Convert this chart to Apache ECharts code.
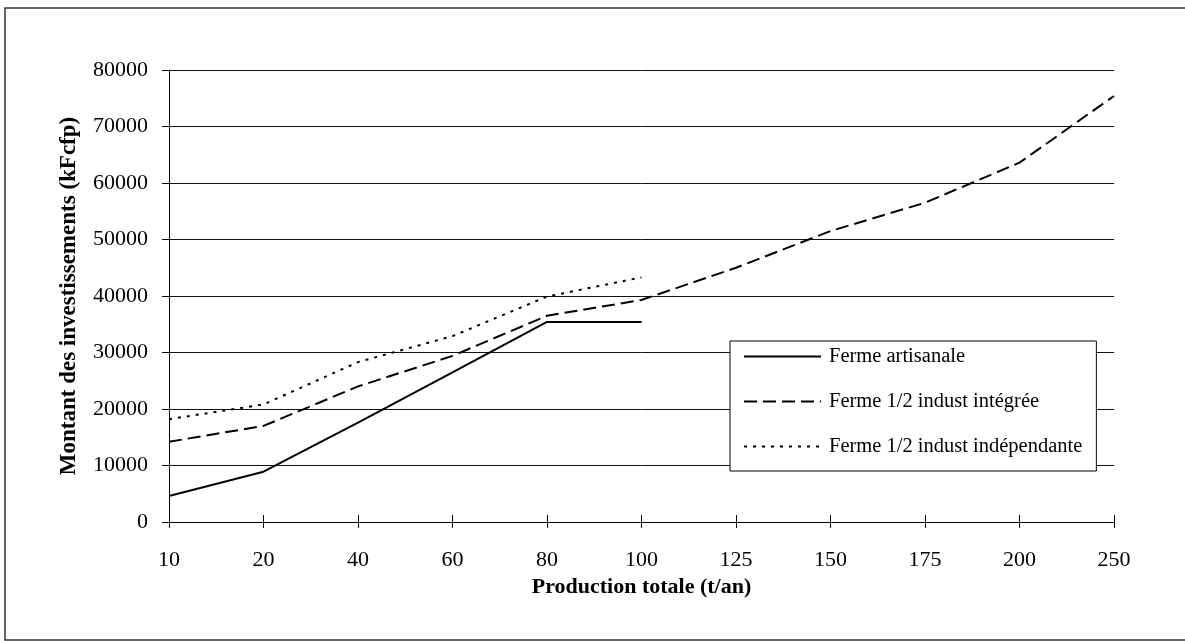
<!DOCTYPE html>
<html>
<head>
<meta charset="utf-8">
<script src="https://cdn.jsdelivr.net/npm/echarts@6/dist/echarts.min.js"></script>
<style>
  html, body { margin: 0; padding: 0; background: #ffffff; }
  #chart { width: 1185px; height: 641px; }
</style>
</head>
<body>
<div id="chart"></div>
<script>
// Production totale (t/an) — category positions
var categories = ['10', '20', '40', '60', '80', '100', '125', '150', '175', '200', '250'];

// Montant des investissements (kFcfp)
var fermeArtisanale = [4600, 8900, 17600, 26500, 35400, 35400, null, null, null, null, null];
var fermeIntegree = [14200, 17000, 24000, 29400, 36500, 39300, 45000, 51500, 56500, 63600, 75400];
var fermeIndependante = [18200, 20800, 28300, 32900, 39900, 43300, null, null, null, null, null];

var seriesNames = ['Ferme artisanale', 'Ferme 1/2 indust intégrée', 'Ferme 1/2 indust indépendante'];

var FONT = '"Liberation Serif", "Times New Roman", serif';

var chart = echarts.init(document.getElementById('chart'), null, { renderer: 'canvas' });

function lineSeries(name, data, type) {
  return {
    name: name,
    type: 'line',
    data: data,
    symbol: 'none',
    showSymbol: false,
    connectNulls: false,
    animation: false,
    lineStyle: { color: '#000', width: 2, type: type },
    itemStyle: { color: '#000' }
  };
}

chart.setOption({
  backgroundColor: '#ffffff',
  animation: false,
  graphic: [{
    type: 'rect',
    shape: { x: 5, y: 8, width: 1200, height: 632 },
    style: { fill: 'none', stroke: '#333', lineWidth: 1.5 },
    silent: true,
    z: -1
  }],
  grid: { left: 169, right: 71, top: 70, bottom: 119 },
  legend: {
    orient: 'vertical',
    left: 730,
    top: 341,
    backgroundColor: '#ffffff',
    borderColor: '#000',
    borderWidth: 1,
    padding: [5, 14, 14, 13],
    itemWidth: 77,
    itemHeight: 20,
    itemGap: 24,
    data: seriesNames,
    textStyle: { fontFamily: FONT, fontSize: 20.5, color: '#000', padding: [0, 0, 0, 3] },
    itemStyle: { opacity: 0 }
  },
  xAxis: [{
    type: 'category',
    data: categories,
    boundaryGap: false,
    name: 'Production totale (t/an)',
    nameLocation: 'middle',
    nameGap: 52,
    nameTextStyle: { fontFamily: FONT, fontSize: 22, fontWeight: 'bold', color: '#000' },
    axisLine: { lineStyle: { color: '#000', width: 1 } },
    axisTick: { show: true, length: 6, alignWithLabel: true, lineStyle: { color: '#000' } },
    axisLabel: { fontFamily: FONT, fontSize: 22, color: '#000', margin: 27 },
    splitLine: { show: false }
  }, {
    type: 'category',
    data: categories,
    boundaryGap: false,
    position: 'bottom',
    axisLine: { show: false },
    axisTick: { show: true, inside: true, length: 7, lineStyle: { color: '#000' } },
    axisLabel: { show: false },
    splitLine: { show: false }
  }],
  yAxis: {
    type: 'value',
    min: 0,
    max: 80000,
    interval: 10000,
    name: 'Montant des investissements (kFcfp)',
    nameLocation: 'middle',
    nameGap: 88,
    nameTextStyle: { fontFamily: FONT, fontSize: 23, fontWeight: 'bold', color: '#000' },
    axisLine: { show: true, lineStyle: { color: '#000', width: 1 } },
    axisTick: { show: true, length: 7, lineStyle: { color: '#000' } },
    axisLabel: {
      fontFamily: FONT, fontSize: 22, color: '#000', margin: 21,
      formatter: function (v) { return String(v); }
    },
    splitLine: { show: true, lineStyle: { color: '#111', width: 1 } }
  },
  series: [
    lineSeries(seriesNames[0], fermeArtisanale, 'solid'),
    lineSeries(seriesNames[1], fermeIntegree, [13, 6]),
    lineSeries(seriesNames[2], fermeIndependante, [3, 6])
  ]
});
</script>
</body>
</html>
